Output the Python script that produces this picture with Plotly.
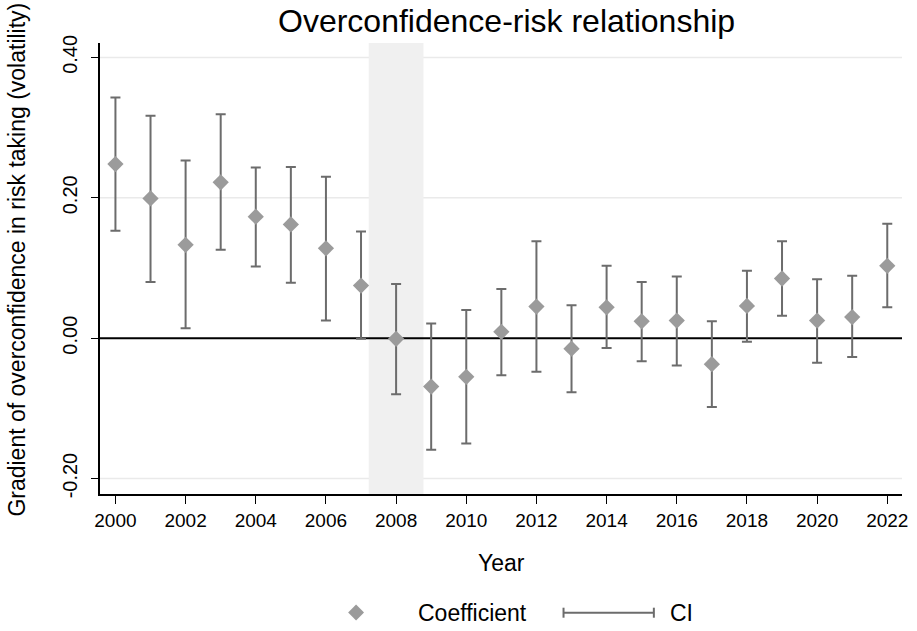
import plotly.graph_objects as go

# ---- data ----
years = list(range(2000, 2023))
coef = [0.248, 0.199, 0.133, 0.222, 0.173, 0.162, 0.128, 0.075, -0.001, -0.069,
        -0.055, 0.009, 0.045, -0.015, 0.044, 0.024, 0.025, -0.037, 0.046, 0.085,
        0.025, 0.030, 0.103]
ci_low = [0.153, 0.080, 0.014, 0.126, 0.102, 0.079, 0.025, -0.001, -0.080, -0.159,
          -0.150, -0.053, -0.048, -0.077, -0.014, -0.033, -0.039, -0.098, -0.005, 0.032,
          -0.035, -0.027, 0.044]
ci_high = [0.343, 0.317, 0.253, 0.319, 0.243, 0.244, 0.230, 0.152, 0.077, 0.021,
           0.040, 0.070, 0.138, 0.047, 0.103, 0.080, 0.088, 0.024, 0.096, 0.138,
           0.084, 0.089, 0.163]
x_ticks = list(range(2000, 2023, 2))
y_ticks = [-0.2, 0.0, 0.2, 0.4]
y_ticklabels = ["-0.20", "0.00", "0.20", "0.40"]
crisis_start, crisis_end = 2007.22, 2008.78

FONT = "Liberation Sans, Arial, sans-serif"
MARKER_C = "#9b9b9b"
BAR_C = "#6c6c6c"
GRID_C = "#eaeaea"

W, H = 917, 631
L, R, T, B = 100, 9, 43, 137
PW, PH = W - L - R, H - T - B


def px(xp):
    return (xp - L) / PW


def py(yp):
    return (H - B - yp) / PH


err_plus = [h - c for h, c in zip(ci_high, coef)]
err_minus = [c - l for c, l in zip(coef, ci_low)]

fig = go.Figure()
fig.add_trace(go.Scatter(
    x=years, y=coef, mode="markers", name="Coefficient",
    marker=dict(symbol="diamond", size=12.5, color=MARKER_C, line=dict(width=0)),
    error_y=dict(type="data", symmetric=False, array=err_plus, arrayminus=err_minus,
                 color=BAR_C, thickness=2, width=5),
    showlegend=False,
))

shapes = []
# light grid lines (except at zero, where a black reference line is drawn)
for yv in y_ticks:
    if yv != 0:
        shapes.append(dict(type="line", xref="paper", yref="y", x0=0, x1=1, y0=yv, y1=yv,
                           line=dict(color=GRID_C, width=1.5), layer="below"))
shapes.append(dict(type="rect", xref="x", yref="paper", x0=crisis_start, x1=crisis_end, y0=0, y1=1,
                   fillcolor="#f0f0f0", line=dict(width=0), layer="below"))
shapes.append(dict(type="line", xref="paper", yref="y", x0=0, x1=1, y0=0, y1=0,
                   line=dict(color="black", width=2), layer="below"))

# manual legend
dcx, dcy, dh = 358, 612.5, 8
shapes.append(dict(
    type="path", xref="paper", yref="paper",
    path=f"M {px(dcx - dh)} {py(dcy)} L {px(dcx)} {py(dcy - dh)} L {px(dcx + dh)} {py(dcy)} L {px(dcx)} {py(dcy + dh)} Z",
    fillcolor=MARKER_C, line=dict(width=0)))
lx0, lx1, ly = 567, 658, 612.7
shapes.append(dict(type="line", xref="paper", yref="paper", x0=px(lx0), x1=px(lx1), y0=py(ly), y1=py(ly),
                   line=dict(color=BAR_C, width=2)))
for xx in (lx0, lx1):
    shapes.append(dict(type="line", xref="paper", yref="paper", x0=px(xx), x1=px(xx),
                       y0=py(ly - 5), y1=py(ly + 5), line=dict(color=BAR_C, width=2)))

annotations = [
    dict(text="Overconfidence-risk relationship", xref="paper", yref="paper",
         x=px(510), y=py(21), xanchor="center", yanchor="middle", showarrow=False,
         font=dict(size=32, color="black", family=FONT)),
    dict(text="Year", xref="paper", yref="paper", x=px(505), y=py(563),
         xanchor="center", yanchor="middle", showarrow=False,
         font=dict(size=23, color="black", family=FONT)),
    dict(text="Gradient of overconfidence in risk taking (volatility)", xref="paper", yref="paper",
         x=px(16), y=py(260), xanchor="center", yanchor="middle", textangle=-90, showarrow=False,
         font=dict(size=23, color="black", family=FONT)),
    dict(text="Coefficient", xref="paper", yref="paper", x=px(418), y=py(613),
         xanchor="left", yanchor="middle", showarrow=False,
         font=dict(size=23, color="black", family=FONT)),
    dict(text="CI", xref="paper", yref="paper", x=px(672), y=py(613),
         xanchor="left", yanchor="middle", showarrow=False,
         font=dict(size=23, color="black", family=FONT)),
]

fig.update_layout(
    width=W, height=H,
    margin=dict(l=L, r=R, t=T, b=B, pad=0),
    paper_bgcolor="white", plot_bgcolor="white",
    font=dict(family=FONT, color="black"),
    shapes=shapes, annotations=annotations,
    xaxis=dict(range=[1999.56, 2022.42], tickvals=x_ticks, ticks="outside", ticklen=8,
               tickwidth=1.2, tickcolor="black", showline=True, linecolor="black", linewidth=1.5,
               showgrid=False, zeroline=False, tickfont=dict(size=19, family=FONT)),
    yaxis=dict(range=[-0.222, 0.4205], tickvals=y_ticks, ticktext=y_ticklabels, tickangle=-90,
               ticks="outside", ticklen=7, tickwidth=1.2, tickcolor="black",
               showline=True, linecolor="black", linewidth=1.5, ticklabelstandoff=6,
               showgrid=False, zeroline=False,
               tickfont=dict(size=20, family=FONT)),
)

fig.write_html("out.html", config={"displayModeBar": False},
               post_script="document.body.style.margin='0';document.body.style.padding='0';")
